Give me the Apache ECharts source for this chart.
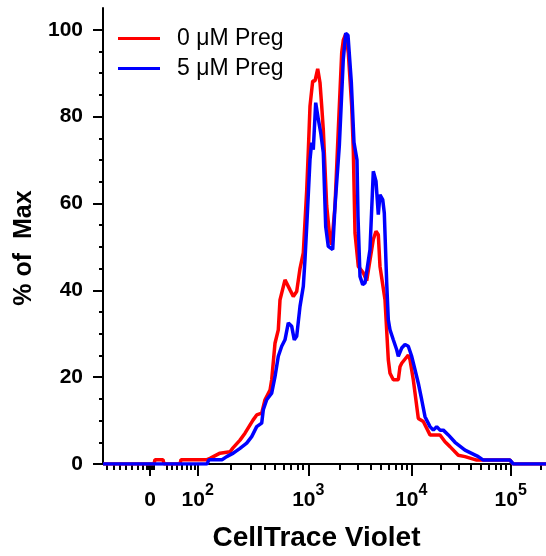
<!DOCTYPE html>
<html>
<head>
<meta charset="utf-8">
<script src="https://cdn.jsdelivr.net/npm/echarts@6/dist/echarts.min.js"></script>
<style>
  html, body { margin: 0; padding: 0; background: #fff; }
  #chart { width: 546px; height: 556px; }
</style>
</head>
<body>
<div id="chart"></div>
<script>
// x values are display channels of the biexponential CellTrace Violet axis
const xTickPos = [47, 94.7, 205.3, 308.3, 407.7];
const xTickLabels = ['0', '10^2', '10^3', '10^4', '10^5'];
const xLowMinorTicks = [4, 11, 17, 23, 29, 35, 40, 44, 46, 48.5, 50.5, 64, 69, 74, 79, 84, 88, 91.5];
const yMajorTicks = [0, 20, 40, 60, 80, 100];

const seriesNames = ['0 \u03bcM Preg', '5 \u03bcM Preg'];

// [channel, % of max]
const preg0 = [
  [0, 0], [51, 0], [52, 1], [60, 1], [61, 0], [77, 0], [78, 1], [104, 1], [107, 1.3],
  [117, 2.5], [127, 2.8], [130, 3.7], [137, 5.5], [142, 7.1], [150, 10.1], [153.7, 11.3],
  [158.7, 11.7], [162, 14.8], [167, 17], [168.7, 19.4], [172, 27.8], [175.3, 30.9],
  [177, 37.8], [182, 42.4], [187, 40.1], [190.3, 38.6], [193.7, 39.7], [197, 45],
  [200.3, 48.6], [203.7, 63], [205.3, 72], [207, 82.4], [209.7, 88.2], [212, 88.2],
  [214.7, 91], [217, 87.8], [218.7, 82.4], [220.3, 77], [223.7, 59.4], [227, 51.7],
  [228.7, 50.5], [232, 59.4], [235.3, 77], [238.7, 94.7], [240.3, 97.6], [242.7, 99],
  [245.3, 94.7], [248.7, 82.4], [250.3, 72.4], [252, 53.2], [255.3, 45.5], [260.3, 44],
  [263.7, 42.2], [270.3, 51.7], [273, 53.6], [275.3, 52.8], [277, 45.5], [282, 37.8],
  [285.3, 24], [287, 20.9], [290.3, 19.4], [295.3, 19.4], [297, 22.4], [298.7, 23.2],
  [305.3, 25.1], [307, 24], [310.3, 19.4], [315.3, 10.5], [320.3, 9.8], [327, 6.7],
  [337, 6.7], [342, 5.1], [347, 4], [355.3, 2], [362, 1.7], [373.7, 0.9], [407, 0.9],
  [410, 0], [443, 0]
];

const preg5 = [
  [0, 0], [104, 0], [106, 1], [119, 1], [123.7, 1.7], [130.3, 2.5], [137, 3.6],
  [143.7, 4.8], [148.7, 6.3], [153.7, 8.6], [158.7, 9.4], [160.3, 12.5], [163.7, 14.8],
  [168.7, 16.3], [172, 20.1], [175.3, 24.8], [178.7, 27.1], [182, 28.6], [185.3, 32.5],
  [188.7, 31.7], [191.3, 28.6], [193.7, 29.4], [197, 36.3], [200.3, 40.9], [202, 47.1],
  [204, 56], [207, 70.1], [208.7, 74], [210.3, 72.4], [212.7, 83.2], [215.3, 79.4],
  [217.7, 76.3], [220.3, 71.7], [222.7, 54.7], [225.3, 50.1], [229.7, 49.4], [232, 59.4],
  [236.3, 73.2], [240.3, 93.2], [242.7, 99.2], [245, 98.7], [248.3, 88], [251, 74],
  [254, 70], [255, 57], [257, 43.2], [259.7, 41.3], [262, 41.7], [267, 49.4],
  [270.3, 67.4], [273, 65.1], [275.3, 57.4], [277, 62], [279.7, 60.9], [281.3, 57.8],
  [283.7, 41.7], [285.3, 33.2], [287, 30.9], [290.3, 28.6], [293.7, 26.3], [295.3, 24.8],
  [298.7, 26.7], [302, 27.5], [305.3, 27.1], [308.7, 24.8], [312, 21.7], [315.3, 18.6],
  [318.7, 14.8], [322, 10.9], [327, 8.6], [330.3, 7.8], [333.7, 8.6], [337, 7.8],
  [340.3, 7.8], [345.3, 6.7], [352, 5], [362, 3.2], [375.3, 1.7], [380.3, 0.9],
  [407, 0.9], [410.3, 0], [443, 0]
];

// minor ticks: log steps inside each decade, plus the linear part near zero
const decadeEnds = [94.7, 205.3, 308.3, 407.7, 506];
const xMinorTicks = xLowMinorTicks.slice();
for (let d = 0; d < decadeEnds.length - 1; d++) {
  const a = decadeEnds[d], b = decadeEnds[d + 1];
  for (let k = 2; k <= 9; k++) {
    const p = a + (b - a) * Math.log10(k);
    if (p < 443) xMinorTicks.push(p);
  }
}
const yMinorTicks = [];
for (let v = 5; v < 100; v += 5) {
  if (v % 20 !== 0) yMinorTicks.push(v);
}

const font = "'Liberation Sans', Arial, Helvetica, sans-serif";

function xLabel(v) {
  const i = xTickPos.findIndex(p => Math.abs(p - v) < 0.01);
  if (i < 0) return '';
  const parts = xTickLabels[i].split('^');
  return parts.length > 1 ? '{b|' + parts[0] + '}{s|' + parts[1] + '}' : '{b|' + parts[0] + '}';
}

const chart = echarts.init(document.getElementById('chart'));
chart.setOption({
  animation: false,
  backgroundColor: '#fff',
  grid: { left: 103, right: 0, top: 8, bottom: 92, outerBoundsMode: 'none' },
  legend: {
    orient: 'vertical',
    left: 113,
    top: 22,
    icon: 'rect',
    itemWidth: 42,
    itemHeight: 3,
    itemGap: 7,
    textStyle: { fontFamily: font, fontSize: 23, color: '#000', padding: [0, 0, 0, 12] },
    data: seriesNames
  },
  xAxis: [
    {
      type: 'value', min: 0, max: 443,
      name: 'CellTrace Violet',
      nameLocation: 'middle',
      nameGap: 60,
      nameTextStyle: { fontFamily: font, fontSize: 28, fontWeight: 'bold', color: '#000', padding: [0, 16, 0, 0] },
      axisLine: { lineStyle: { color: '#000', width: 2 } },
      axisTick: { customValues: xTickPos, length: 12, lineStyle: { color: '#000', width: 2 } },
      axisLabel: {
        customValues: xTickPos,
        margin: 22,
        formatter: xLabel,
        rich: {
          b: { fontFamily: font, fontSize: 21, fontWeight: 'bold', color: '#000', lineHeight: 22, padding: [6, 0, 0, 0] },
          s: { fontFamily: font, fontSize: 16, fontWeight: 'bold', color: '#000', lineHeight: 16, padding: [0, 0, 12, 0] }
        }
      },
      splitLine: { show: false }
    },
    {
      type: 'value', min: 0, max: 443, position: 'bottom',
      axisLine: { show: false },
      axisTick: { customValues: xMinorTicks, length: 6, lineStyle: { color: '#000', width: 2 } },
      axisLabel: { show: false },
      splitLine: { show: false }
    }
  ],
  yAxis: [
    {
      type: 'value', min: 0, max: 105,
      name: '% of  Max',
      nameLocation: 'middle',
      nameRotate: 90,
      nameGap: 57,
      nameTextStyle: { fontFamily: font, fontSize: 25, fontWeight: 'bold', color: '#000', padding: [0, 24, 0, 0] },
      axisLine: { show: true, lineStyle: { color: '#000', width: 2 } },
      axisTick: { show: true, customValues: yMajorTicks, length: 10, lineStyle: { color: '#000', width: 2 } },
      axisLabel: { customValues: yMajorTicks, margin: 20, fontFamily: font, fontSize: 21, fontWeight: 'bold', color: '#000' },
      splitLine: { show: false }
    },
    {
      type: 'value', min: 0, max: 105, position: 'left',
      axisLine: { show: false },
      axisTick: { show: true, customValues: yMinorTicks, length: 4, lineStyle: { color: '#000', width: 2 } },
      axisLabel: { show: false },
      splitLine: { show: false }
    }
  ],
  series: [
    {
      name: seriesNames[0], type: 'line', data: preg0, showSymbol: false,
      lineStyle: { color: '#ff0000', width: 3.5 }, itemStyle: { color: '#ff0000' }
    },
    {
      name: seriesNames[1], type: 'line', data: preg5, showSymbol: false,
      lineStyle: { color: '#0000ff', width: 3.5 }, itemStyle: { color: '#0000ff' }
    }
  ]
});
</script>
</body>
</html>
